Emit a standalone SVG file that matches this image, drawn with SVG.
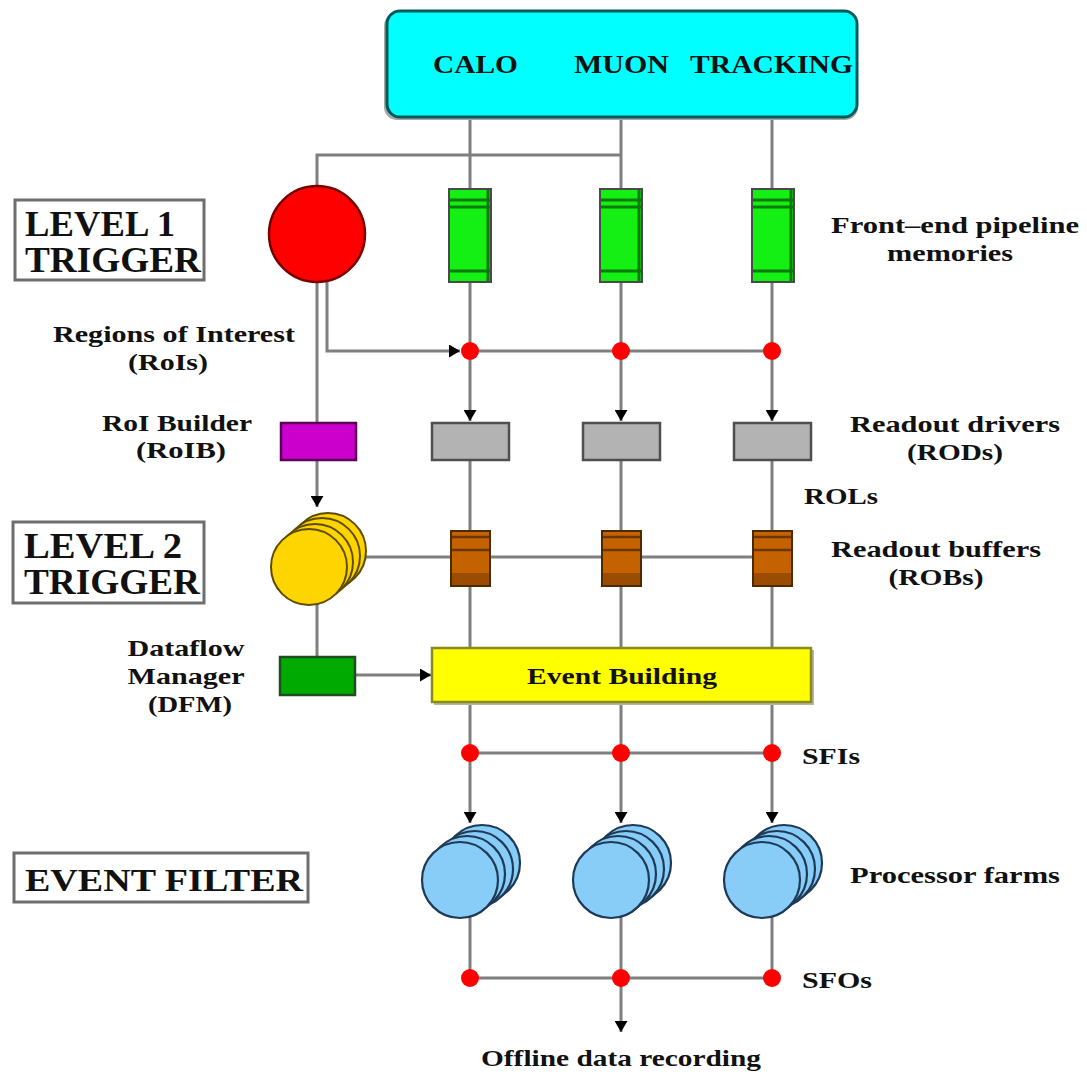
<svg xmlns="http://www.w3.org/2000/svg" width="1087" height="1072" viewBox="0 0 1087 1072">
  <style>
    .lbl { font-family: "Liberation Serif", "Times New Roman", serif; font-weight: bold; fill: #111; }
    .big { font-size: 36px; }
    .med { font-size: 23px; }
    .wire { stroke: #7f7f7f; stroke-width: 3; fill: none; }
    .frame { fill: #fff; stroke: #6e6e6e; stroke-width: 3; }
    .dot { fill: #ff0000; }
    .fe { fill: #14f014; stroke: #4a4a4a; stroke-width: 2; }
    .fe-band { stroke: #0b7a0b; stroke-width: 3; }
    .rod { fill: #b3b3b3; stroke: #4f4f4f; stroke-width: 2.5; }
    .rob { fill: #c46200; stroke: #4e2a00; stroke-width: 2; }
    .rob-band { stroke: #6b3600; stroke-width: 2.5; }
    .l2 { fill: #ffd500; stroke: #5e4c00; stroke-width: 2; }
    .pf { fill: #87cdf8; stroke: #1e3a56; stroke-width: 2.2; }
  </style>
  <defs>
    <marker id="arrow" viewBox="0 0 11 13" refX="11" refY="6.5" markerWidth="11" markerHeight="13" markerUnits="userSpaceOnUse" orient="auto">
      <path d="M0,0 L11,6.5 L0,13 z" fill="#000"/>
    </marker>
  </defs>
  <rect width="1087" height="1072" fill="#fff"/>

  <!-- connectors -->
  <g id="connectors">
    <!-- detector column feeds -->
    <line class="wire" x1="470" y1="118" x2="470" y2="189"/>
    <line class="wire" x1="621" y1="118" x2="621" y2="189"/>
    <line class="wire" x1="772" y1="118" x2="772" y2="189"/>
    <!-- tap to level 1 -->
    <polyline class="wire" points="621,155 317,155 317,188"/>
    <!-- pipelines to RoI junctions -->
    <line class="wire" x1="470" y1="282" x2="470" y2="351"/>
    <line class="wire" x1="621" y1="282" x2="621" y2="351"/>
    <line class="wire" x1="772" y1="282" x2="772" y2="351"/>
    <!-- RoIs from level 1 -->
    <polyline class="wire" points="327,280 327,351 460,351" marker-end="url(#arrow)"/>
    <line class="wire" x1="470" y1="351" x2="772" y2="351"/>
    <!-- level 1 to RoI builder -->
    <line class="wire" x1="317" y1="282" x2="317" y2="423"/>
    <!-- junctions to RODs -->
    <line class="wire" x1="470" y1="351" x2="470" y2="421" marker-end="url(#arrow)"/>
    <line class="wire" x1="621" y1="351" x2="621" y2="421" marker-end="url(#arrow)"/>
    <line class="wire" x1="772" y1="351" x2="772" y2="421" marker-end="url(#arrow)"/>
    <!-- RoIB to level 2 -->
    <line class="wire" x1="317" y1="460" x2="317" y2="507" marker-end="url(#arrow)"/>
    <!-- RODs to ROBs (ROLs) -->
    <line class="wire" x1="470" y1="460" x2="470" y2="531"/>
    <line class="wire" x1="621" y1="460" x2="621" y2="531"/>
    <line class="wire" x1="772" y1="460" x2="772" y2="531"/>
    <!-- level 2 to ROBs -->
    <line class="wire" x1="360" y1="557" x2="772" y2="557"/>
    <!-- level 2 to DFM -->
    <line class="wire" x1="317" y1="600" x2="317" y2="656"/>
    <!-- ROBs to event building -->
    <line class="wire" x1="470" y1="586" x2="470" y2="648"/>
    <line class="wire" x1="621" y1="586" x2="621" y2="648"/>
    <line class="wire" x1="772" y1="586" x2="772" y2="648"/>
    <!-- DFM to event building -->
    <line class="wire" x1="355" y1="675" x2="431" y2="675" marker-end="url(#arrow)"/>
    <!-- event building to SFIs -->
    <line class="wire" x1="470" y1="703" x2="470" y2="753"/>
    <line class="wire" x1="621" y1="703" x2="621" y2="753"/>
    <line class="wire" x1="772" y1="703" x2="772" y2="753"/>
    <line class="wire" x1="470" y1="753" x2="772" y2="753"/>
    <!-- SFIs to processor farms -->
    <line class="wire" x1="470" y1="753" x2="470" y2="823" marker-end="url(#arrow)"/>
    <line class="wire" x1="621" y1="753" x2="621" y2="823" marker-end="url(#arrow)"/>
    <line class="wire" x1="772" y1="753" x2="772" y2="823" marker-end="url(#arrow)"/>
    <!-- farms to SFOs -->
    <line class="wire" x1="470" y1="915" x2="470" y2="978"/>
    <line class="wire" x1="621" y1="915" x2="621" y2="978"/>
    <line class="wire" x1="772" y1="915" x2="772" y2="978"/>
    <line class="wire" x1="470" y1="978" x2="772" y2="978"/>
    <!-- SFO to storage -->
    <line class="wire" x1="621" y1="978" x2="621" y2="1032" marker-end="url(#arrow)"/>
  </g>

  <!-- detector block -->
  <g id="detectors">
    <rect x="384" y="13" width="474" height="107" rx="13" fill="#a8a8a8"/>
    <rect x="387" y="11" width="470" height="106" rx="13" fill="#00ffff" stroke="#005a5a" stroke-width="3"/>
    <text class="lbl" x="433" y="73" font-size="26" fill="#003c3c" textLength="85" lengthAdjust="spacingAndGlyphs">CALO</text>
    <text class="lbl" x="574" y="73" font-size="26" fill="#003c3c" textLength="95" lengthAdjust="spacingAndGlyphs">MUON</text>
    <text class="lbl" x="690" y="73" font-size="26" fill="#003c3c" textLength="163" lengthAdjust="spacingAndGlyphs">TRACKING</text>
  </g>

  <!-- level 1 processor -->
  <g id="level1">
    <circle cx="317" cy="234" r="48" fill="#ff0000" stroke="#7a0000" stroke-width="2.5"/>
  </g>

  <!-- front-end pipeline memories -->
  <g id="pipelines">
    <g>
      <rect class="fe" x="449" y="189" width="42" height="93"/>
      <line class="fe-band" x1="450" y1="200" x2="490" y2="200"/>
      <line class="fe-band" x1="450" y1="207" x2="490" y2="207"/>
      <line class="fe-band" x1="450" y1="271" x2="490" y2="271"/>
      <line class="fe-band" x1="488" y1="190" x2="488" y2="281"/>
    </g>
    <g>
      <rect class="fe" x="600" y="189" width="42" height="93"/>
      <line class="fe-band" x1="601" y1="200" x2="641" y2="200"/>
      <line class="fe-band" x1="601" y1="207" x2="641" y2="207"/>
      <line class="fe-band" x1="601" y1="271" x2="641" y2="271"/>
      <line class="fe-band" x1="639" y1="190" x2="639" y2="281"/>
    </g>
    <g>
      <rect class="fe" x="752" y="189" width="42" height="93"/>
      <line class="fe-band" x1="753" y1="200" x2="793" y2="200"/>
      <line class="fe-band" x1="753" y1="207" x2="793" y2="207"/>
      <line class="fe-band" x1="753" y1="271" x2="793" y2="271"/>
      <line class="fe-band" x1="791" y1="190" x2="791" y2="281"/>
    </g>
  </g>

  <!-- RoI junctions -->
  <g id="roi-junctions">
    <circle class="dot" cx="470" cy="351" r="9"/>
    <circle class="dot" cx="621" cy="351" r="9"/>
    <circle class="dot" cx="772" cy="351" r="9"/>
  </g>

  <!-- RoI builder -->
  <g id="roib">
    <rect x="281" y="423" width="75" height="37" fill="#cc00cc" stroke="#5a005a" stroke-width="2.5"/>
  </g>

  <!-- readout drivers -->
  <g id="rods">
    <rect class="rod" x="432" y="423" width="77" height="37"/>
    <rect class="rod" x="583" y="423" width="77" height="37"/>
    <rect class="rod" x="734" y="423" width="77" height="37"/>
  </g>

  <!-- level 2 processors -->
  <g id="level2">
    <circle class="l2" cx="328" cy="551" r="38"/>
    <circle class="l2" cx="322" cy="556" r="38"/>
    <circle class="l2" cx="315" cy="562" r="38"/>
    <circle class="l2" cx="309" cy="567" r="38"/>
  </g>

  <!-- readout buffers -->
  <g id="robs">
    <g>
      <rect class="rob" x="451" y="531" width="39" height="55"/>
      <rect x="452" y="573" width="37" height="12" fill="#9a4d00"/>
      <line class="rob-band" x1="452" y1="537" x2="489" y2="537"/>
      <line class="rob-band" x1="452" y1="550" x2="489" y2="550"/>
    </g>
    <g>
      <rect class="rob" x="602" y="531" width="39" height="55"/>
      <rect x="603" y="573" width="37" height="12" fill="#9a4d00"/>
      <line class="rob-band" x1="603" y1="537" x2="640" y2="537"/>
      <line class="rob-band" x1="603" y1="550" x2="640" y2="550"/>
    </g>
    <g>
      <rect class="rob" x="753" y="531" width="39" height="55"/>
      <rect x="754" y="573" width="37" height="12" fill="#9a4d00"/>
      <line class="rob-band" x1="754" y1="537" x2="791" y2="537"/>
      <line class="rob-band" x1="754" y1="550" x2="791" y2="550"/>
    </g>
  </g>

  <!-- dataflow manager -->
  <g id="dfm">
    <rect x="280" y="657" width="75" height="38" fill="#00aa00" stroke="#1f4f1f" stroke-width="2.5"/>
  </g>

  <!-- event building -->
  <g id="event-building">
    <rect x="434" y="650" width="380" height="55" fill="#b5b5a0"/>
    <rect x="432" y="648" width="379" height="54" fill="#ffff00" stroke="#8a8a20" stroke-width="2.5"/>
    <text class="lbl med" x="622" y="684" text-anchor="middle" fill="#303000" textLength="190" lengthAdjust="spacingAndGlyphs">Event Building</text>
  </g>

  <!-- SFI junctions -->
  <g id="sfis">
    <circle class="dot" cx="470" cy="753" r="9"/>
    <circle class="dot" cx="621" cy="753" r="9"/>
    <circle class="dot" cx="772" cy="753" r="9"/>
  </g>

  <!-- processor farms -->
  <g id="farms">
    <g>
      <circle class="pf" cx="482" cy="863" r="38"/>
      <circle class="pf" cx="475" cy="869" r="38"/>
      <circle class="pf" cx="467" cy="874" r="38"/>
      <circle class="pf" cx="460" cy="880" r="38"/>
    </g>
    <g>
      <circle class="pf" cx="633" cy="863" r="38"/>
      <circle class="pf" cx="626" cy="869" r="38"/>
      <circle class="pf" cx="618" cy="874" r="38"/>
      <circle class="pf" cx="611" cy="880" r="38"/>
    </g>
    <g>
      <circle class="pf" cx="784" cy="863" r="38"/>
      <circle class="pf" cx="777" cy="869" r="38"/>
      <circle class="pf" cx="769" cy="874" r="38"/>
      <circle class="pf" cx="762" cy="880" r="38"/>
    </g>
  </g>

  <!-- SFO junctions -->
  <g id="sfos">
    <circle class="dot" cx="470" cy="978" r="9"/>
    <circle class="dot" cx="621" cy="978" r="9"/>
    <circle class="dot" cx="772" cy="978" r="9"/>
  </g>

  <!-- stage titles -->
  <g id="stage-level1">
    <rect class="frame" x="15" y="200" width="189" height="80"/>
    <text class="lbl big" x="25" y="236" textLength="150" lengthAdjust="spacingAndGlyphs">LEVEL 1</text>
    <text class="lbl big" x="25" y="272" textLength="176" lengthAdjust="spacingAndGlyphs">TRIGGER</text>
  </g>
  <g id="stage-level2">
    <rect class="frame" x="13" y="522" width="191" height="81"/>
    <text class="lbl big" x="24" y="558" textLength="158" lengthAdjust="spacingAndGlyphs">LEVEL 2</text>
    <text class="lbl big" x="24" y="594" textLength="176" lengthAdjust="spacingAndGlyphs">TRIGGER</text>
  </g>
  <g id="stage-ef">
    <rect class="frame" x="14" y="853" width="294" height="49"/>
    <text class="lbl" x="25" y="891" font-size="32" textLength="278" lengthAdjust="spacingAndGlyphs">EVENT FILTER</text>
  </g>

  <!-- annotations -->
  <g id="labels">
    <text class="lbl med" x="174" y="342" text-anchor="middle" textLength="242" lengthAdjust="spacingAndGlyphs">Regions of Interest</text>
    <text class="lbl med" x="168" y="370" text-anchor="middle" textLength="80" lengthAdjust="spacingAndGlyphs">(RoIs)</text>
    <text class="lbl med" x="177" y="431" text-anchor="middle" textLength="150" lengthAdjust="spacingAndGlyphs">RoI Builder</text>
    <text class="lbl med" x="181" y="458" text-anchor="middle" textLength="90" lengthAdjust="spacingAndGlyphs">(RoIB)</text>
    <text class="lbl med" x="186" y="656" text-anchor="middle" textLength="117" lengthAdjust="spacingAndGlyphs">Dataflow</text>
    <text class="lbl med" x="186" y="684" text-anchor="middle" textLength="117" lengthAdjust="spacingAndGlyphs">Manager</text>
    <text class="lbl med" x="190" y="712" text-anchor="middle" textLength="84" lengthAdjust="spacingAndGlyphs">(DFM)</text>

    <text class="lbl med" x="955" y="233" text-anchor="middle" textLength="248" lengthAdjust="spacingAndGlyphs">Front–end pipeline</text>
    <text class="lbl med" x="950" y="261" text-anchor="middle" textLength="126" lengthAdjust="spacingAndGlyphs">memories</text>
    <text class="lbl med" x="955" y="432" text-anchor="middle" textLength="210" lengthAdjust="spacingAndGlyphs">Readout drivers</text>
    <text class="lbl med" x="955" y="460" text-anchor="middle" textLength="96" lengthAdjust="spacingAndGlyphs">(RODs)</text>
    <text class="lbl med" x="804" y="504" textLength="74" lengthAdjust="spacingAndGlyphs">ROLs</text>
    <text class="lbl med" x="936" y="557" text-anchor="middle" textLength="210" lengthAdjust="spacingAndGlyphs">Readout buffers</text>
    <text class="lbl med" x="936" y="585" text-anchor="middle" textLength="95" lengthAdjust="spacingAndGlyphs">(ROBs)</text>
    <text class="lbl med" x="802" y="764" textLength="58" lengthAdjust="spacingAndGlyphs">SFIs</text>
    <text class="lbl med" x="850" y="883" textLength="210" lengthAdjust="spacingAndGlyphs">Processor farms</text>
    <text class="lbl med" x="802" y="988" textLength="70" lengthAdjust="spacingAndGlyphs">SFOs</text>
    <text class="lbl med" x="621" y="1066" text-anchor="middle" textLength="280" lengthAdjust="spacingAndGlyphs">Offline data recording</text>
  </g>
</svg>
